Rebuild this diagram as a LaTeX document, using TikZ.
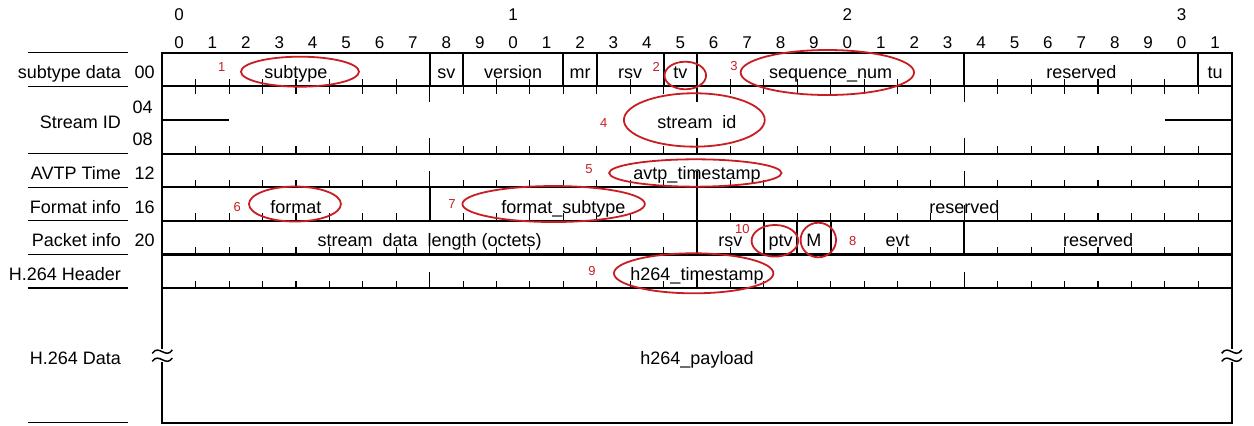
\documentclass[tikz,border=0pt]{standalone}
\usepackage{fontspec}
\setmainfont{Liberation Sans}
\usepackage{tikz}
\usetikzlibrary{calc}
\definecolor{markred}{RGB}{200,30,35}
\tikzstyle{boxline}=[line width=2.1pt, line cap=rect]
\tikzstyle{bittick}=[line width=1.1pt]
\tikzstyle{labline}=[line width=1.3pt]
\tikzstyle{circled}=[draw=markred, line width=1.8pt]
\tikzstyle{fieldtext}=[inner sep=0pt, anchor=base, font=\fontsize{18}{21}\selectfont]
\tikzstyle{rowlabel}=[fieldtext, anchor=base east]
\tikzstyle{wordoffs}=[fieldtext, anchor=base west]
\tikzstyle{bitno}=[fieldtext, font=\fontsize{17}{20}\selectfont]
\tikzstyle{callout}=[inner sep=0pt, text=markred, font=\fontsize{13}{15}\selectfont]
% ticks along the line y=#1, #2=-1 pointing up, #2=1 pointing down
\newcommand{\bitticks}[2]{
	\foreach \b in {1,...,31}{
		\pgfmathsetmacro{\tlen}{ifthenelse(mod(\b,8)==0,0.47,0.22)}
		\draw[bittick] (\b,#1) -- ++(0,#2*\tlen);
	}
}
% edge of the payload at x=#1, broken by two waves
\newcommand{\breakedge}[1]{
	\draw[boxline] (#1,7) -- (#1,8.78) (#1,9.22) -- (#1,11);
	\foreach \yy in {8.89,9.13}
		\draw[line width=1.5pt] (#1-0.3,\yy+0.05) .. controls (#1-0.1,\yy-0.24) and (#1+0.1,\yy+0.24) .. (#1+0.3,\yy-0.05);
}

\begin{document}
\begin{tikzpicture}[x=33.42pt, y=-33.63pt]
	\useasboundingbox (-4.856,-1.567) rectangle (32.667,11.1);
%
	\foreach \b in {0,...,31}{
		\pgfmathtruncatemacro{\bitu}{mod(\b,10)}
		\node[bitno] (u\b) at (\b+0.5,-0.13) {\bitu};
	}
	\foreach \t in {0,1,2,3}
		\node[bitno] (t\t) at (\t*10+0.5,-0.97) {\t};
%
	\foreach \r in {0,1,3,4,5,6,7,11}
		\draw[boxline] (0,\r) -- (32,\r);
	\foreach \r in {0,1,3,4,5,6,7,11}
		\draw[labline] (-4.02,\r) -- (-1.03,\r);
	\draw[boxline] (0,0) -- (0,7) (32,0) -- (32,7);
	\breakedge{0}
	\breakedge{32}
%
	\foreach \x in {8,9,12,13,15,16,24,31}
		\draw[boxline] (\x,0) -- (\x,1);
	\foreach \x in {8,16}
		\draw[boxline] (\x,4) -- (\x,5);
	\foreach \x in {16,18,19,20,24}
		\draw[boxline] (\x,5) -- (\x,6);
%
	\bitticks{1}{-1}
	\bitticks{1}{1}
	\bitticks{3}{-1}
	\bitticks{4}{-1}
	\bitticks{5}{-1}
	\bitticks{6}{-1}
	\bitticks{7}{-1}
	\draw[bittick] (0,2) -- (2,2) (30,2) -- (32,2);
%
	\node[rowlabel] (lsub) at (-1.234,0.77) {subtype data};
	\node[rowlabel] (lsid) at (-1.234,2.25) {Stream ID};
	\node[rowlabel] (ltime) at (-1.234,3.77) {AVTP Time};
	\node[rowlabel] (lfmt) at (-1.234,4.77) {Format info};
	\node[rowlabel] (lpkt) at (-1.234,5.77) {Packet info};
	\node[rowlabel] (lhdr) at (-1.234,6.77) {H.264 Header};
	\node[rowlabel] (ldata) at (-1.234,9.26) {H.264 Data};
	\node[wordoffs] (o00) at (-0.835,0.77) {00};
	\node[wordoffs] (o04) at (-0.89,1.82) {04};
	\node[wordoffs] (o08) at (-0.89,2.76) {08};
	\node[wordoffs] (o12) at (-0.835,3.77) {12};
	\node[wordoffs] (o16) at (-0.835,4.77) {16};
	\node[wordoffs] (o20) at (-0.835,5.77) {20};
%
	\node[fieldtext] (subtype) at (4,0.77) {subtype};
	\node[fieldtext] (sv) at (8.5,0.77) {sv};
	\node[fieldtext] (version) at (10.5,0.77) {version};
	\node[fieldtext] (mr) at (12.5,0.77) {mr};
	\node[fieldtext] (rsva) at (14,0.77) {rsv};
	\node[fieldtext] (tv) at (15.5,0.77) {tv};
	\node[fieldtext] (seqnum) at (20,0.77) {sequence\_num};
	\node[fieldtext] (resa) at (27.5,0.77) {reserved};
	\node[fieldtext] (tu) at (31.5,0.77) {tu};
	\node[fieldtext] (sid) at (16,2.25) {stream\ \ id};
	\node[fieldtext] (avtpts) at (16,3.77) {avtp\_timestamp};
	\node[fieldtext] (format) at (4,4.77) {format};
	\node[fieldtext] (fmtsub) at (12,4.77) {format\_subtype};
	\node[fieldtext] (resb) at (24,4.77) {reserved};
	\node[fieldtext] (sdlen) at (8,5.77) {stream\ \ data\ \ length (octets)};
	\node[fieldtext] (rsvb) at (17,5.77) {rsv};
	\node[fieldtext] (ptv) at (18.5,5.77) {ptv};
	\node[fieldtext] (mbit) at (19.5,5.77) {M};
	\node[fieldtext] (evt) at (22,5.77) {evt};
	\node[fieldtext] (resc) at (28,5.77) {reserved};
	\node[fieldtext] (h264ts) at (16,6.77) {h264\_timestamp};
	\node[fieldtext] (payload) at (16,9.26) {h264\_payload};
%
	\draw[circled] (4.12,0.565) ellipse [x radius=1.765, y radius=0.446];
	\draw[circled] (15.65,0.678) ellipse [x radius=0.622, y radius=0.41];
	\draw[circled] (19.9,0.589) ellipse [x radius=2.594, y radius=0.669];
	\draw[circled] (15.92,2.0) ellipse [x radius=2.107, y radius=0.794];
	\draw[circled] (15.95,3.577) ellipse [x radius=2.579, y radius=0.407];
	\draw[circled] (3.97,4.5) ellipse [x radius=1.376, y radius=0.52];
	\draw[circled] (11.71,4.5) ellipse [x radius=2.729, y radius=0.535];
	\draw[circled] (18.33,5.593) ellipse [x radius=0.697, y radius=0.47];
	\draw[circled] (19.63,5.57) ellipse [x radius=0.53, y radius=0.514];
	\draw[circled] (15.9,6.56) ellipse [x radius=2.385, y radius=0.595];
%
	\node[callout] (n1) at (1.777,0.434) {1};
	\node[callout] (n2) at (14.78,0.416) {2};
	\node[callout] (n3) at (17.11,0.387) {3};
	\node[callout] (n4) at (13.21,2.08) {4};
	\node[callout] (n5) at (12.77,3.458) {5};
	\node[callout] (n6) at (2.241,4.579) {6};
	\node[callout] (n7) at (8.668,4.508) {7};
	\node[callout] (n8) at (20.66,5.59) {8};
	\node[callout] (n9) at (12.86,6.48) {9};
	\node[callout] (n10) at (17.36,5.25) {10};
\end{tikzpicture}
\end{document}
